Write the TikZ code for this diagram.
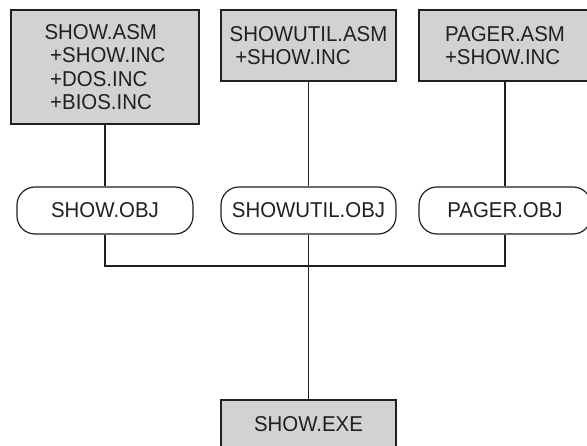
\documentclass[tikz,border=0pt]{standalone}
\usepackage{fontspec}
\setmainfont{Liberation Sans}[FakeStretch=0.95]
\usepackage{tikz}
\usetikzlibrary{calc}
\definecolor{boxgray}{RGB}{210,210,212}
\definecolor{inkblack}{RGB}{35,31,32}
\tikzset{
	srcbox/.style={draw=inkblack, fill=boxgray, line width=1.2pt, align=left, inner sep=0pt},
	objbox/.style={draw=inkblack, rounded corners=18pt, line width=1.2pt, minimum height=47pt, inner sep=0pt},
	wire/.style={draw=inkblack, line width=1.1pt}
}

\begin{document}
\begin{tikzpicture}[x=1pt, y=1pt, font=\fontsize{21.5}{23.5}\selectfont, text=inkblack]
			%%%%% START %%%%%
			
			\useasboundingbox (0, 0) rectangle (587, 445);
			
			\node[srcbox, minimum width=188pt, minimum height=114pt] (showasm) at (105, 378) {SHOW.ASM\\\ +SHOW.INC\\\ +DOS.INC\\\ +BIOS.INC};
			\node[srcbox, minimum width=175pt, minimum height=71pt] (utilasm) at (308.5, 399.5) {SHOWUTIL.ASM\\\ +SHOW.INC};
			\node[srcbox, minimum width=172pt, minimum height=71pt] (pagerasm) at (505, 399.5) {PAGER.ASM\\+SHOW.INC};
			
			\node[objbox, minimum width=176pt] (showobj) at (105, 234.5) {SHOW.OBJ};
			\node[objbox, minimum width=175pt] (utilobj) at (308.5, 234.5) {SHOWUTIL.OBJ};
			\node[objbox, minimum width=172pt] (pagerobj) at (505, 234.5) {PAGER.OBJ};
			
			\node[srcbox, minimum width=175pt, minimum height=48pt] (showexe) at (308.5, 21) {SHOW.EXE};
			
			\coordinate (bus) at (308.5, 179);
			
			\draw[wire] (showasm.south) -- (showobj.north);
			\draw[wire] (utilasm.south) -- (utilobj.north);
			\draw[wire] (pagerasm.south) -- (pagerobj.north);
			
			\draw[wire] (showobj.south) |- (bus) -| (pagerobj.south);
			\draw[wire] (utilobj.south) -- (showexe.north);
			
			%%%%% END %%%%%
\end{tikzpicture}
\end{document}
